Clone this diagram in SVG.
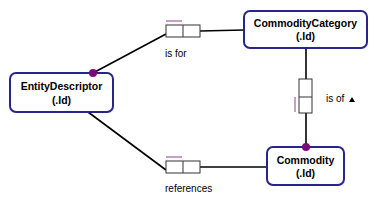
<svg xmlns="http://www.w3.org/2000/svg" width="380" height="208" viewBox="0 0 380 208">
<style>
.node rect{fill:#fff;stroke:#25258a;stroke-width:2}
.node text{font-family:"Liberation Sans",Arial,sans-serif;font-weight:bold;font-size:10.5px;fill:#000;text-anchor:middle}
.line{stroke:#000;stroke-width:1.6;fill:none}
.box{fill:#fff;stroke:#333;stroke-width:1}
.mark{stroke:#a060a0;stroke-width:1.2}
.dot{fill:#7a0a7a}
.lbl{font-family:"Liberation Sans",Arial,sans-serif;font-size:10px;fill:#000}
</style>
<rect width="380" height="208" fill="#fff"/>
<g id="connectors">
  <polyline class="line" points="93,73 166,34"/>
  <line class="line" x1="200" y1="31" x2="244" y2="30"/>
  <rect class="box" x="166" y="25" width="34" height="12"/>
  <line class="box" x1="183" y1="25" x2="183" y2="37"/>
  <line class="mark" x1="166" y1="21" x2="182" y2="21"/>
  <text class="lbl" x="165" y="57">is for</text>

  <polyline class="line" points="88,112 166,170"/>
  <line class="line" x1="200" y1="167" x2="267" y2="167"/>
  <rect class="box" x="166" y="161" width="34" height="12"/>
  <line class="box" x1="183" y1="161" x2="183" y2="173"/>
  <line class="mark" x1="166" y1="157" x2="182" y2="157"/>
  <text class="lbl" x="165" y="192">references</text>

  <line class="line" x1="306" y1="48" x2="306" y2="147"/>
  <rect class="box" x="299" y="79" width="13" height="34"/>
  <line class="box" x1="299" y1="97" x2="312" y2="97"/>
  <line class="mark" x1="295" y1="97" x2="295" y2="112"/>
  <text class="lbl" x="326" y="102">is of</text>
  <polygon points="349,102 355,102 352,97" fill="#000"/>
</g>
<g id="EntityDescriptor" class="node">
  <rect x="10" y="73" width="103" height="39" rx="6"/>
  <text x="61.5" y="90">EntityDescriptor</text>
  <text x="61.5" y="104">(.Id)</text>
</g>
<g id="CommodityCategory" class="node">
  <rect x="244" y="11" width="123" height="37" rx="6"/>
  <text x="305.5" y="27">CommodityCategory</text>
  <text x="305.5" y="40">(.Id)</text>
</g>
<g id="Commodity" class="node">
  <rect x="267" y="147" width="77" height="38" rx="6"/>
  <text x="305.5" y="164">Commodity</text>
  <text x="305.5" y="177">(.Id)</text>
</g>
<circle class="dot" cx="93" cy="73" r="4"/>
<circle class="dot" cx="306" cy="147" r="4"/>
</svg>
